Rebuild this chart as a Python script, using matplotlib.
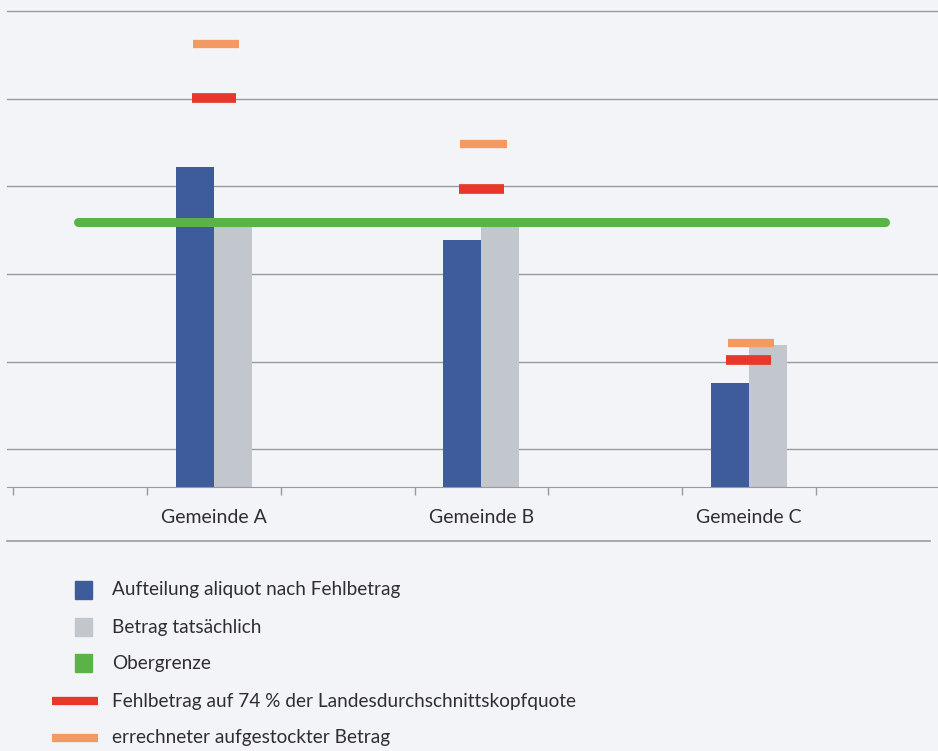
import matplotlib.pyplot as plt
import numpy as np
from matplotlib.patches import Rectangle
from matplotlib.lines import Line2D

plt.rcParams['font.family'] = ['Lato', 'DejaVu Sans']

gemeinden = ['Gemeinde A', 'Gemeinde B', 'Gemeinde C']
aliquot = [4.22, 3.39, 1.75]
tatsaechlich = [3.59, 3.59, 2.19]
obergrenze = 3.59
fehlbetrag = [5.01, 3.97, 2.02]
aufgestockt = [5.63, 4.49, 2.21]

legend_labels = ['Aufteilung aliquot nach Fehlbetrag', 'Betrag tatsächlich', 'Obergrenze',
                 'Fehlbetrag auf 74 % der Landesdurchschnittskopfquote',
                 'errechneter aufgestockter Betrag']

blue = '#3E5B9C'
grey = '#C2C6CD'
green = '#5BB247'
red = '#E8382B'
orange = '#F39A63'
bg = '#F3F4F8'
txt = '#2E2E33'

fig = plt.figure(figsize=(9.38, 7.51), dpi=100, facecolor=bg)
ax = fig.add_axes([7 / 938, 1 - 487 / 751, 1 - 7 / 938, 487 / 751])
ax.set_facecolor(bg)

ymin, ymax = 0.566, 6.131
ax.set_ylim(ymin, ymax)
ax.set_xlim(-0.774, 2.707)

x = np.arange(len(gemeinden))
w = 0.142
ax.bar(x - w / 2, np.array(aliquot) - ymin, w, bottom=ymin, color=blue, zorder=2)
ax.bar(x + w / 2, np.array(tatsaechlich) - ymin, w, bottom=ymin, color=grey, zorder=2)

ax.plot([-0.508, 2.508], [obergrenze, obergrenze], color=green, lw=6.5,
        solid_capstyle='round', zorder=3)

ax.hlines(fehlbetrag, x - 0.084, x + 0.084, color=red, lw=7, zorder=4)
ax.hlines(aufgestockt, x - 0.08, x + 0.095, color=orange, lw=6, zorder=4)

ax.set_yticks([1, 2, 3, 4, 5, 6])
ax.yaxis.grid(True, color='#9A9A9E', lw=1)
ax.set_axisbelow(True)
ax.tick_params(axis='y', length=0, labelleft=False)

ax.set_xticks(x)
ax.set_xticklabels(gemeinden, fontsize=14, color=txt)
ax.set_xticks(np.arange(-0.75, 2.5, 0.5), minor=True)
ax.tick_params(axis='x', which='major', length=0, pad=16)
ax.tick_params(axis='x', which='minor', length=6, color='#9A9A9E', width=1)

for s in ['top', 'right', 'left']:
    ax.spines[s].set_visible(False)
ax.spines['bottom'].set_color('#9A9A9E')

# separator line below the category labels
fig.add_artist(Line2D([7 / 938, 930 / 938], [1 - 541 / 751] * 2, color='#9A9A9E', lw=1.2))

# legend drawn by hand
colors = [blue, grey, green, red, orange]
ys = [590, 627, 663, 701, 738]
for i, (lab, c, yy) in enumerate(zip(legend_labels, colors, ys)):
    yf = 1 - yy / 751
    if i < 3:
        fig.add_artist(Rectangle((75 / 938, yf - 9 / 751), 17 / 938, 18 / 751,
                                 color=c, transform=fig.transFigure))
    else:
        fig.add_artist(Line2D([52 / 938, 98 / 938], [yf, yf], color=c, lw=6,
                              solid_capstyle='butt'))
    fig.text(112 / 938, yf, lab, fontsize=13.7, color=txt, va='center')

fig.savefig('out.png', dpi=100, facecolor=bg)
